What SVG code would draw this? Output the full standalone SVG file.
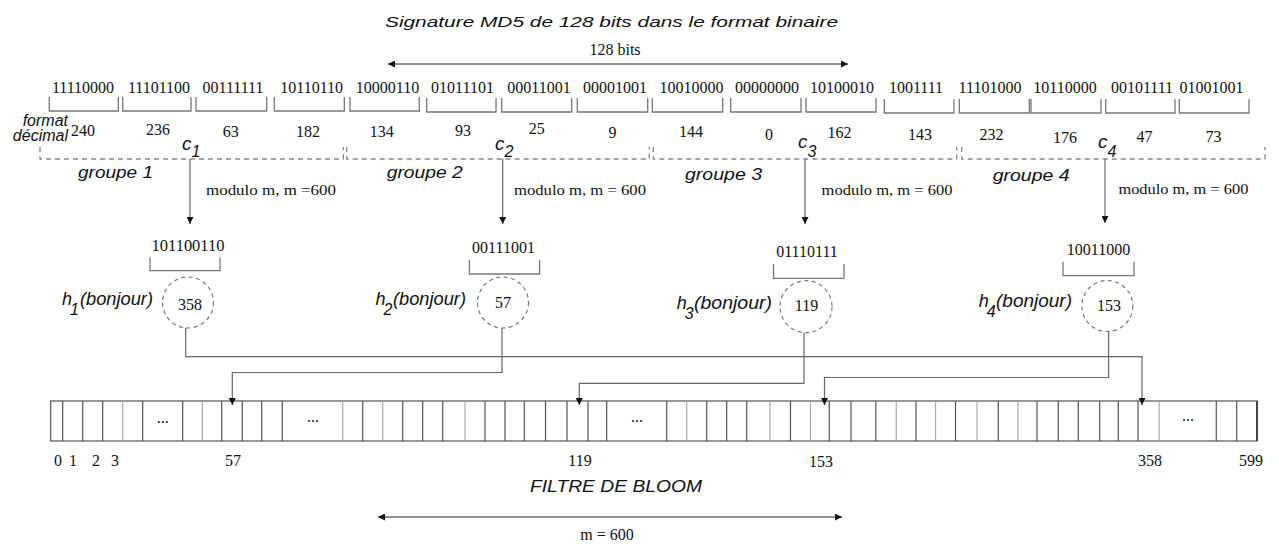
<svg xmlns="http://www.w3.org/2000/svg" width="1279" height="544" viewBox="0 0 1279 544">
<style>
.ser{font-family:"Liberation Serif","Times New Roman",serif;font-size:16px;fill:#111}
.bin{font-family:"Liberation Serif","Times New Roman",serif;font-size:16px;fill:#111;text-anchor:middle}
.dec{font-family:"Liberation Serif","Times New Roman",serif;font-size:16px;fill:#111;text-anchor:middle}
.mod{font-family:"Liberation Serif","Times New Roman",serif;font-size:15px;fill:#111}
.it{font-family:"Liberation Sans",Arial,sans-serif;font-style:italic;fill:#111}
.brk{fill:none;stroke:#777;stroke-width:1.3}
.grp{fill:none;stroke:#888;stroke-width:1.3;stroke-dasharray:5,4}
.circ{fill:#fff;stroke:#777;stroke-width:1.2;stroke-dasharray:4,3.5}
.ln{fill:none;stroke:#222;stroke-width:1}
.gl{fill:none;stroke:#666;stroke-width:1.2}
.cd{stroke:#555;stroke-width:1.2}
.cl{stroke:#aaa;stroke-width:1.2}
</style>
<defs>
<marker id="ah" viewBox="0 0 10 10" refX="10" refY="5" markerWidth="10" markerHeight="7" markerUnits="userSpaceOnUse" orient="auto">
<path d="M0,0 L10,5 L0,10 z" fill="#111"/>
</marker>
<marker id="ahs" viewBox="0 0 10 10" refX="10" refY="5" markerWidth="10" markerHeight="7" markerUnits="userSpaceOnUse" orient="auto-start-reverse">
<path d="M0,0 L10,5 L0,10 z" fill="#111"/>
</marker>
</defs>
<rect width="1279" height="544" fill="#fff"/>

<g id="title">
<text class="it" x="611.5" y="27" font-size="15" text-anchor="middle" textLength="453" lengthAdjust="spacingAndGlyphs">Signature MD5 de 128 bits dans le format binaire</text>
<text class="ser" x="615" y="55" text-anchor="middle" font-size="15">128 bits</text>
</g>

<g id="bytes">
<text class="bin" x="83" y="93">11110000</text>
<text class="bin" x="159" y="93">11101100</text>
<text class="bin" x="233" y="93">00111111</text>
<text class="bin" x="311.7" y="93">10110110</text>
<text class="bin" x="387.5" y="93">10000110</text>
<text class="bin" x="462.5" y="93">01011101</text>
<text class="bin" x="539" y="93">00011001</text>
<text class="bin" x="615" y="93">00001001</text>
<text class="bin" x="691.5" y="93">10010000</text>
<text class="bin" x="767" y="93">00000000</text>
<text class="bin" x="842" y="93">10100010</text>
<text class="bin" x="916" y="93">1001111</text>
<text class="bin" x="990" y="93">11101000</text>
<text class="bin" x="1065" y="93">10110000</text>
<text class="bin" x="1142" y="93">00101111</text>
<text class="bin" x="1211.5" y="93">01001001</text>
<path class="brk" d="M49.3,97V111H118.3V97M122.7,97V111H191V97M196,97V111H266.7V97M274.3,97V111H344.3V97M350,97V111H419.3V97M426.7,98V112H496V98M501.7,98V112H571.7V98M577.3,98V112H647.7V98M652.3,98V112H722.7V98M730.7,98V112H801V98M806,98V112H876V98M884.3,99V113H954V99M959.3,99V113H1029.3V99M1031,99V113H1101V99M1105.7,99V113H1175V99M1179.3,99V113H1249V99"/>
</g>

<g id="decimal">
<text class="it" x="68" y="126" font-size="16" text-anchor="end">format</text>
<text class="it" x="68" y="141" font-size="16" text-anchor="end">décimal</text>
<text class="dec" x="83" y="136">240</text>
<text class="dec" x="158" y="135">236</text>
<text class="dec" x="230.7" y="137">63</text>
<text class="dec" x="308" y="137">182</text>
<text class="dec" x="381.7" y="137">134</text>
<text class="dec" x="463" y="136">93</text>
<text class="dec" x="536.7" y="134">25</text>
<text class="dec" x="612.5" y="138">9</text>
<text class="dec" x="691" y="137">144</text>
<text class="dec" x="769" y="140">0</text>
<text class="dec" x="839.5" y="138">162</text>
<text class="dec" x="920" y="140">143</text>
<text class="dec" x="991.5" y="140">232</text>
<text class="dec" x="1065" y="143">176</text>
<text class="dec" x="1144.5" y="142">47</text>
<text class="dec" x="1213.5" y="142">73</text>
</g>

<g id="groupe1">
<path class="grp" d="M40,147V159H343.3V147"/>
<text class="it" x="182" y="150" font-size="19">c<tspan font-size="16" dy="7">1</tspan></text>
<text class="it" x="78" y="178" font-size="16" textLength="75" lengthAdjust="spacingAndGlyphs">groupe 1</text>
</g>
<g id="groupe2">
<path class="grp" d="M346.7,147V159H649.3V147"/>
<text class="it" x="495" y="150" font-size="19">c<tspan font-size="16" dy="7">2</tspan></text>
<text class="it" x="386.7" y="178" font-size="16" textLength="76" lengthAdjust="spacingAndGlyphs">groupe 2</text>
</g>
<g id="groupe3">
<path class="grp" d="M653.3,147V159H956.7V147"/>
<text class="it" x="798" y="148" font-size="19">c<tspan font-size="16" dy="9">3</tspan></text>
<text class="it" x="685" y="180" font-size="16" textLength="77" lengthAdjust="spacingAndGlyphs">groupe 3</text>
</g>
<g id="groupe4">
<path class="grp" d="M961.7,147V159H1265V147"/>
<text class="it" x="1098" y="148" font-size="19">c<tspan font-size="16" dy="9">4</tspan></text>
<text class="it" x="992.7" y="181" font-size="16" textLength="77" lengthAdjust="spacingAndGlyphs">groupe 4</text>
</g>

<g id="modulo">
<text class="mod" x="206" y="195" textLength="130" lengthAdjust="spacingAndGlyphs">modulo m, m =600</text>
<text class="mod" x="514" y="195" textLength="132" lengthAdjust="spacingAndGlyphs">modulo m, m = 600</text>
<text class="mod" x="821.6" y="195" textLength="131" lengthAdjust="spacingAndGlyphs">modulo m, m = 600</text>
<text class="mod" x="1118.4" y="194" textLength="130" lengthAdjust="spacingAndGlyphs">modulo m, m = 600</text>
</g>

<g id="hash1">
<text class="bin" x="188" y="250.5" textLength="73" lengthAdjust="spacingAndGlyphs">101100110</text>
<path class="brk" d="M150,257.3V270.7H220V257.3"/>
<circle class="circ" cx="188" cy="302.5" r="25.5"/>
<text class="dec" x="190" y="310" font-size="15">358</text>
<text class="it" x="62" y="305" font-size="18">h</text>
<text class="it" x="70" y="315" font-size="16">1</text>
<text class="it" x="80" y="305" font-size="18" textLength="73" lengthAdjust="spacingAndGlyphs">(bonjour)</text>
</g>
<g id="hash2">
<text class="bin" x="503.5" y="253">00111001</text>
<path class="brk" d="M469.4,260V274H539.6V260"/>
<circle class="circ" cx="503" cy="302.5" r="25.5"/>
<text class="dec" x="503" y="308" font-size="15">57</text>
<text class="it" x="375.5" y="305" font-size="18">h</text>
<text class="it" x="383.5" y="315" font-size="16">2</text>
<text class="it" x="393" y="305" font-size="18" textLength="73" lengthAdjust="spacingAndGlyphs">(bonjour)</text>
</g>
<g id="hash3">
<text class="bin" x="807" y="256.7">01110111</text>
<path class="brk" d="M773.5,264V278.3H844V264"/>
<circle class="circ" cx="806" cy="306.7" r="26"/>
<text class="dec" x="806.5" y="311" font-size="15">119</text>
<text class="it" x="676.7" y="309" font-size="18">h</text>
<text class="it" x="684.7" y="319" font-size="16">3</text>
<text class="it" x="694" y="309" font-size="18" textLength="78" lengthAdjust="spacingAndGlyphs">(bonjour)</text>
</g>
<g id="hash4">
<text class="bin" x="1098.5" y="255">10011000</text>
<path class="brk" d="M1063,261.7V275.7H1134V261.7"/>
<circle class="circ" cx="1107.3" cy="306" r="25.5"/>
<text class="dec" x="1109" y="311" font-size="15">153</text>
<text class="it" x="978.8" y="307" font-size="18">h</text>
<text class="it" x="986.8" y="317" font-size="16">4</text>
<text class="it" x="996" y="307" font-size="18" textLength="76" lengthAdjust="spacingAndGlyphs">(bonjour)</text>
</g>

<g id="bloom">
<rect x="50.7" y="401" width="1206.3" height="40" fill="none" stroke="#555" stroke-width="1.2"/>
<line x1="1257" y1="401" x2="1257" y2="441" stroke="#444" stroke-width="2"/>
<g class="cd">
<line x1="62.7" y1="401" x2="62.7" y2="441"/><line x1="82.7" y1="401" x2="82.7" y2="441"/><line x1="102.7" y1="401" x2="102.7" y2="441"/><line x1="142.7" y1="401" x2="142.7" y2="441"/><line x1="182.7" y1="401" x2="182.7" y2="441"/><line x1="221.7" y1="401" x2="221.7" y2="441"/><line x1="242.3" y1="401" x2="242.3" y2="441"/><line x1="261.7" y1="401" x2="261.7" y2="441"/><line x1="282.3" y1="401" x2="282.3" y2="441"/><line x1="362.7" y1="401" x2="362.7" y2="441"/><line x1="402.7" y1="401" x2="402.7" y2="441"/><line x1="422.7" y1="401" x2="422.7" y2="441"/><line x1="442.7" y1="401" x2="442.7" y2="441"/><line x1="485" y1="401" x2="485" y2="441"/><line x1="505" y1="401" x2="505" y2="441"/><line x1="524.3" y1="401" x2="524.3" y2="441"/><line x1="545.5" y1="401" x2="545.5" y2="441"/><line x1="567" y1="401" x2="567" y2="441"/><line x1="588" y1="401" x2="588" y2="441"/><line x1="606.7" y1="401" x2="606.7" y2="441"/><line x1="666.7" y1="401" x2="666.7" y2="441"/><line x1="706.7" y1="401" x2="706.7" y2="441"/><line x1="726.7" y1="401" x2="726.7" y2="441"/><line x1="746.7" y1="401" x2="746.7" y2="441"/><line x1="790.5" y1="401" x2="790.5" y2="441"/><line x1="829.3" y1="401" x2="829.3" y2="441"/><line x1="851" y1="401" x2="851" y2="441"/><line x1="875.8" y1="401" x2="875.8" y2="441"/><line x1="916" y1="401" x2="916" y2="441"/><line x1="955.5" y1="401" x2="955.5" y2="441"/><line x1="998.3" y1="401" x2="998.3" y2="441"/><line x1="1037" y1="401" x2="1037" y2="441"/><line x1="1058.3" y1="401" x2="1058.3" y2="441"/><line x1="1078.3" y1="401" x2="1078.3" y2="441"/><line x1="1099.7" y1="401" x2="1099.7" y2="441"/><line x1="1118.3" y1="401" x2="1118.3" y2="441"/><line x1="1138" y1="401" x2="1138" y2="441"/><line x1="1216.3" y1="401" x2="1216.3" y2="441"/><line x1="1236.7" y1="401" x2="1236.7" y2="441"/>
</g>
<g class="cl">
<line x1="122.7" y1="401" x2="122.7" y2="441"/><line x1="202.3" y1="401" x2="202.3" y2="441"/><line x1="342.7" y1="401" x2="342.7" y2="441"/><line x1="382.7" y1="401" x2="382.7" y2="441"/><line x1="465" y1="401" x2="465" y2="441"/><line x1="686.7" y1="401" x2="686.7" y2="441"/><line x1="770" y1="401" x2="770" y2="441"/><line x1="810.5" y1="401" x2="810.5" y2="441"/><line x1="896.3" y1="401" x2="896.3" y2="441"/><line x1="935.5" y1="401" x2="935.5" y2="441"/><line x1="977" y1="401" x2="977" y2="441"/><line x1="1018" y1="401" x2="1018" y2="441"/><line x1="1159.2" y1="401" x2="1159.2" y2="441"/>
</g>
<text class="dec" x="162.7" y="423">...</text>
<text class="dec" x="313" y="422">...</text>
<text class="dec" x="637" y="422">...</text>
<text class="dec" x="1188" y="421">...</text>
<text class="dec" x="58" y="466">0</text>
<text class="dec" x="73" y="466">1</text>
<text class="dec" x="96" y="466">2</text>
<text class="dec" x="115" y="466">3</text>
<text class="dec" x="233" y="466">57</text>
<text class="dec" x="580" y="466">119</text>
<text class="dec" x="821" y="467">153</text>
<text class="dec" x="1150" y="466">358</text>
<text class="dec" x="1251" y="466">599</text>
<text class="it" x="530" y="492" font-size="17" textLength="172" lengthAdjust="spacingAndGlyphs">FILTRE DE BLOOM</text>
</g>

<g id="bottom">
<text class="ser" x="607" y="540" text-anchor="middle" font-size="13">m = 600</text>
</g>

<g id="connectors">
<line class="ln" x1="388" y1="64" x2="848" y2="64" marker-start="url(#ahs)" marker-end="url(#ah)"/>
<line class="ln" x1="378" y1="517" x2="842" y2="517" marker-start="url(#ahs)" marker-end="url(#ah)"/>
<line class="gl" x1="190" y1="159" x2="190" y2="224" marker-end="url(#ah)"/>
<line class="gl" x1="502.7" y1="159" x2="502.7" y2="224" marker-end="url(#ah)"/>
<line class="gl" x1="805" y1="159" x2="805" y2="224" marker-end="url(#ah)"/>
<line class="gl" x1="1105" y1="159" x2="1105" y2="223" marker-end="url(#ah)"/>
<path class="gl" d="M185.7,328V356.7H1142V405" marker-end="url(#ah)"/>
<path class="gl" d="M502,328V372.5H232.3V405" marker-end="url(#ah)"/>
<path class="gl" d="M804,332.7V383.3H579.3V405" marker-end="url(#ah)"/>
<path class="gl" d="M1108.6,331.5V377.5H824.5V405" marker-end="url(#ah)"/>
</g>
</svg>
